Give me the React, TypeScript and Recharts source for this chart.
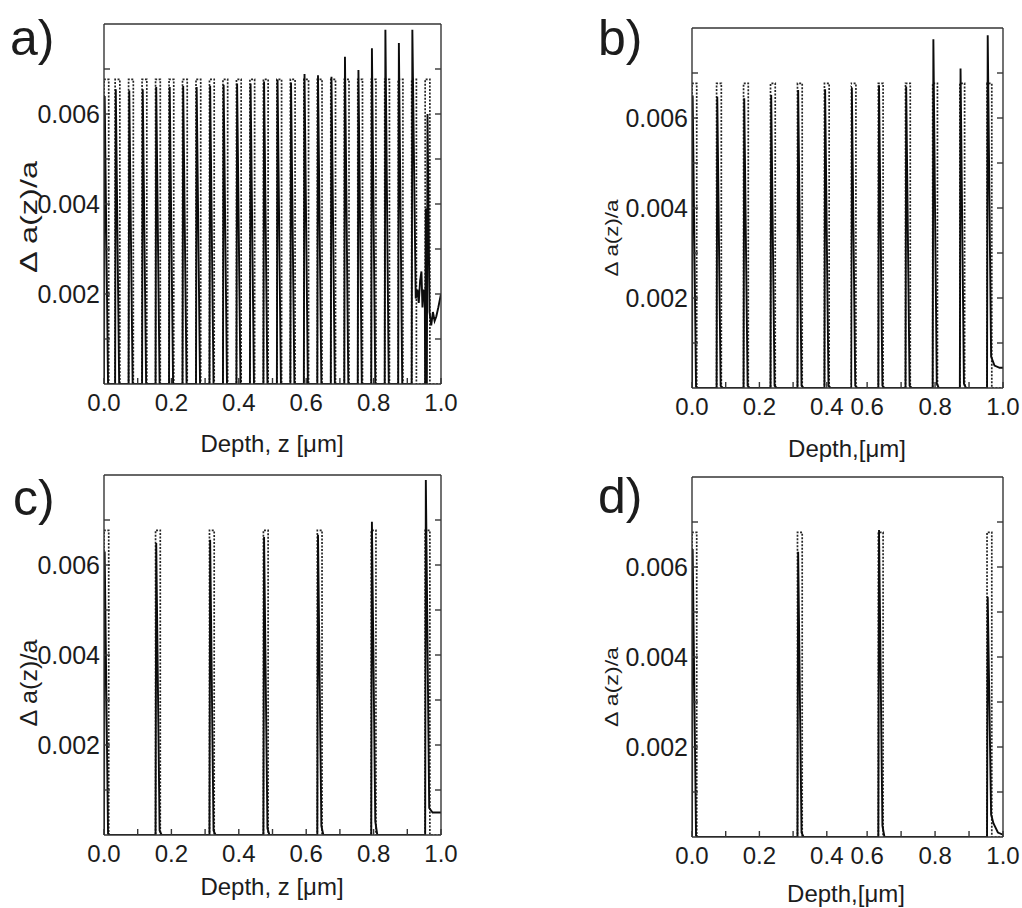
import { Line, LineChart, ReferenceLine, XAxis, YAxis } from 'recharts';

type Pt = { x: number; y: number };

// Δa(z)/a profiles. Each pulse: centre (µm), peak of the
// solid (fitted) curve and the small level it leaves behind at the pulse foot.
// The dotted curve is the target profile, same pulses at a flat height.

// a) 0.04 µm period
const aCenters = [0.007, 0.04, 0.08, 0.12, 0.16, 0.2, 0.24, 0.28, 0.32, 0.36, 0.4, 0.44, 0.48, 0.52, 0.56, 0.6, 0.64, 0.68, 0.72, 0.76, 0.8, 0.84, 0.88];
const aPeaks = [0.0064, 0.00655, 0.00652, 0.00655, 0.0066, 0.0066, 0.00662, 0.0066, 0.00663, 0.00665, 0.00668, 0.00668, 0.00672, 0.00676, 0.0067, 0.00689, 0.00686, 0.00683, 0.00727, 0.00698, 0.00746, 0.00787, 0.00758];
const aTails: number[] = [];
const aTargetCenters = [0.007, 0.04, 0.08, 0.12, 0.16, 0.2, 0.24, 0.28, 0.32, 0.36, 0.4, 0.44, 0.48, 0.52, 0.56, 0.6, 0.64, 0.68, 0.72, 0.76, 0.8, 0.84, 0.88, 0.92, 0.96];
const aEnd = [
  [0.913, 0], [0.915, 0.00787], [0.925, 0.0019], [0.93, 0.0021], [0.934, 0.0018], [0.938, 0.0023],
  [0.942, 0.0025], [0.945, 0.0017], [0.949, 0.0021], [0.952, 0.002], [0.953, 0], [0.955, 0.0039],
  [0.957, 0.0036], [0.958, 0], [0.96, 0.006], [0.966, 0.0016], [0.971, 0.0013], [0.976, 0.0016],
  [0.981, 0.0014], [0.986, 0.0015], [0.992, 0.0017], [1.0, 0.002],
];

// b) 0.08 µm period (the strip around 0.48 is cut out of the original figure)
const bCenters = [0.007, 0.08, 0.16, 0.24, 0.32, 0.4, 0.48, 0.56, 0.64, 0.72, 0.8, 0.88];
const bPeaks = [0.0065, 0.00647, 0.00644, 0.00651, 0.00662, 0.00664, 0.00668, 0.00668, 0.00673, 0.0067, 0.00775, 0.0071];
const bTails = [0.00003, 0.00005, 0.00005, 0.00005, 0.00005, 0.00005, 0.00005, 0.00005, 0.00005, 0.00005, 0.0001, 0.0001];
const bTargetCenters = [0.007, 0.08, 0.16, 0.24, 0.32, 0.4, 0.48, 0.56, 0.64, 0.72, 0.8, 0.88, 0.96];
const bEnd = [[0.953, 0], [0.955, 0.00784], [0.965, 0.0007], [0.975, 0.0005], [0.99, 0.00045], [1.0, 0.00045]];

// c) 0.16 µm period
const cCenters = [0.007, 0.16, 0.32, 0.48, 0.64, 0.8];
const cPeaks = [0.0063, 0.00649, 0.00656, 0.00662, 0.00667, 0.00696];
const cTails = [0.00003, 0.0001, 0.0001, 0.00015, 0.0002, 0.0003];
const cTargetCenters = [0.007, 0.16, 0.32, 0.48, 0.64, 0.8, 0.96];
const cEnd = [[0.953, 0], [0.955, 0.00789], [0.965, 0.0006], [0.975, 0.0005], [0.99, 0.0005], [1.0, 0.0005]];

// d) 0.32 µm period
const dCenters = [0.007, 0.32, 0.64];
const dPeaks = [0.0064, 0.00634, 0.00682];
const dTails = [0.00003, 0.0001, 0.00025];
const dTargetCenters = [0.007, 0.32, 0.64, 0.96];
const dEnd = [[0.953, 0], [0.955, 0.00534], [0.965, 0.0005], [0.972, 0.0003], [0.985, 0.0001], [1.0, 0.00005]];

const targetHeight = 0.00677;
const yMax = 0.008;
const yTicks = [0.001, 0.002, 0.003, 0.004, 0.005, 0.006, 0.007];
const yLabelled = [0.002, 0.004, 0.006];
const xTicksAll = [0, 0.1, 0.2, 0.3, 0.4, 0.5, 0.6, 0.7, 0.8, 0.9, 1.0];
const xTicksLeft = [0, 0.1, 0.2, 0.3, 0.4];
const xTicksRight = [0.6, 0.7, 0.8, 0.9, 1.0];

const panelLetters = ['a)', 'b)', 'c)', 'd)'];
const xTitles = ['Depth, z [\u03bcm]', 'Depth,[\u03bcm]', 'Depth, z [\u03bcm]', 'Depth,[\u03bcm]'];
const yTitle = '\u0394 a(z)/a';

const HALF = 0.007; // half width of a pulse, µm

function fitLine(centers: number[], peaks: number[], tails: number[], end: number[][]): Pt[] {
  return [
    ...centers.flatMap((c, i) => [
      { x: c - HALF, y: 0 },
      { x: c - 0.005, y: peaks[i] },
      { x: c + 0.005, y: tails[i] ?? 0 },
      { x: c + 0.011, y: 0 },
    ]),
    ...end.map(([x, y]) => ({ x, y })),
  ];
}

function targetLine(centers: number[]): Pt[] {
  return [
    ...centers.flatMap((c) => [
      { x: c - HALF, y: 0 },
      { x: c - HALF, y: targetHeight },
      { x: c + HALF, y: targetHeight },
      { x: c + HALF, y: 0 },
    ]),
    { x: 1, y: 0 },
  ];
}

const FRAME = '#353535';
const INK = '#1c1c1c';
const FONT = '"Liberation Sans", Arial, Helvetica, sans-serif';
const PAD_L = 70;
const PAD_R = 20;
const PAD_T = 10;
const PAD_B = 40;
const TICK = 6;

const renderXTick = (props: any) => {
  const { x, y, payload } = props;
  const v = payload.value as number;
  const major = Math.round(v * 10) % 2 === 0;
  return (
    <g>
      <line x1={x} y1={y} x2={x} y2={y - TICK} stroke={FRAME} strokeWidth={1.4} />
      {major && (
        <text x={x} y={y + 27} textAnchor="middle" fontSize={24} fontFamily={FONT} fill={INK}>
          {v.toFixed(1)}
        </text>
      )}
    </g>
  );
};

const renderYTick = (props: any) => {
  const { x, y, payload } = props;
  const v = payload.value as number;
  const major = yLabelled.some((t) => Math.abs(t - v) < 1e-9);
  return (
    <g>
      <line x1={x} y1={y} x2={x + TICK} y2={y} stroke={FRAME} strokeWidth={1.4} />
      {major && (
        <text x={x - 4} y={y} dy="0.36em" textAnchor="end" fontSize={25} fontFamily={FONT} fill={INK}>
          {v.toFixed(3)}
        </text>
      )}
    </g>
  );
};

const renderRTick = (props: any) => {
  const { x, y } = props;
  return <line x1={x} y1={y} x2={x - TICK} y2={y} stroke={FRAME} strokeWidth={1.4} />;
};

interface PieceProps {
  left: number;
  top: number;
  width: number;
  height: number;
  domain: [number, number];
  xTicks: number[];
  leftAxis?: boolean;
  rightAxis?: boolean;
  fit: Pt[];
  target: Pt[];
}

function Piece({ left, top, width, height, domain, xTicks, leftAxis, rightAxis, fit, target }: PieceProps) {
  const axisLine = { stroke: FRAME, strokeWidth: 1.4 };
  const fitAxis = leftAxis ? 'l' : 'r';
  const targetAxis = rightAxis ? 'r' : 'l';
  return (
    <div style={{ position: 'absolute', left: left - PAD_L, top: top - PAD_T }}>
      <LineChart
        width={width + PAD_L + PAD_R}
        height={height + PAD_T + PAD_B}
        margin={{ top: PAD_T, bottom: PAD_B - 30, left: leftAxis ? 0 : PAD_L, right: rightAxis ? PAD_R - 8 : PAD_R }}
      >
        <XAxis
          type="number"
          dataKey="x"
          domain={domain}
          ticks={xTicks}
          interval={0}
          allowDataOverflow
          height={30}
          axisLine={axisLine}
          tickLine={false}
          tickSize={0}
          tickMargin={0}
          tick={renderXTick}
        />
        {leftAxis && (
          <YAxis
            yAxisId="l"
            orientation="left"
            type="number"
            width={PAD_L}
            domain={[0, yMax]}
            ticks={yTicks}
            interval={0}
            allowDataOverflow
            axisLine={axisLine}
            tickLine={false}
            tickSize={0}
            tickMargin={0}
            tick={renderYTick}
          />
        )}
        {rightAxis && (
          <YAxis
            yAxisId="r"
            orientation="right"
            type="number"
            width={8}
            domain={[0, yMax]}
            ticks={yTicks}
            interval={0}
            allowDataOverflow
            axisLine={axisLine}
            tickLine={false}
            tickSize={0}
            tickMargin={0}
            tick={renderRTick}
          />
        )}
        <ReferenceLine yAxisId={fitAxis} y={yMax} stroke={FRAME} strokeWidth={1.4} ifOverflow="visible" />
        <Line
          yAxisId={targetAxis}
          data={target}
          dataKey="y"
          type="linear"
          stroke="#262626"
          strokeWidth={1.7}
          strokeDasharray="2 1.5"
          dot={false}
          isAnimationActive={false}
        />
        <Line
          yAxisId={fitAxis}
          data={fit}
          dataKey="y"
          type="linear"
          stroke="#0c0c0c"
          strokeWidth={1.9}
          dot={false}
          isAnimationActive={false}
        />
      </LineChart>
    </div>
  );
}

// the b) and d) panels are two pieces of one axis, with a strip cut out near 0.5
const CUT_LEFT: [number, number] = [0, 0.4718];
const CUT_RIGHT: [number, number] = [0.5525, 1.0];

export default function App() {
  const aFit = fitLine(aCenters, aPeaks, aTails, aEnd);
  const bFit = fitLine(bCenters, bPeaks, bTails, bEnd);
  const cFit = fitLine(cCenters, cPeaks, cTails, cEnd);
  const dFit = fitLine(dCenters, dPeaks, dTails, dEnd);
  const aTarget = targetLine(aTargetCenters);
  const bTarget = targetLine(bTargetCenters);
  const cTarget = targetLine(cTargetCenters);
  const dTarget = targetLine(dTargetCenters);

  // letter pos, x title pos, y title pos/size/length per panel
  const letters = [
    [10, 55],
    [598, 55],
    [13, 515],
    [598, 513],
  ];
  const xTitlePos = [
    [272, 452],
    [847, 457],
    [272, 895],
    [846, 902],
  ];
  const yTitlePos = [
    [37, 217, 24, 112],
    [618, 238, 18, 77],
    [37, 683, 24, 87],
    [618, 687, 18, 80],
  ];

  return (
    <div style={{ position: 'absolute', left: 0, top: 0, width: 1022, height: 908, overflow: 'hidden', background: '#fff' }}>
      <Piece left={104} top={24} width={337} height={360} domain={[0, 1]} xTicks={xTicksAll} leftAxis rightAxis fit={aFit} target={aTarget} />
      <Piece left={692} top={28} width={159} height={360} domain={CUT_LEFT} xTicks={xTicksLeft} leftAxis fit={bFit} target={bTarget} />
      <Piece left={851} top={28} width={152} height={360} domain={CUT_RIGHT} xTicks={xTicksRight} rightAxis fit={bFit} target={bTarget} />
      <Piece left={104} top={475} width={337} height={360} domain={[0, 1]} xTicks={xTicksAll} leftAxis rightAxis fit={cFit} target={cTarget} />
      <Piece left={692} top={477} width={159} height={360} domain={CUT_LEFT} xTicks={xTicksLeft} leftAxis fit={dFit} target={dTarget} />
      <Piece left={851} top={477} width={152} height={360} domain={CUT_RIGHT} xTicks={xTicksRight} rightAxis fit={dFit} target={dTarget} />

      <svg
        width={1022}
        height={908}
        style={{ position: 'absolute', left: 0, top: 0, pointerEvents: 'none' }}
        fontFamily={FONT}
        fill={INK}
      >
        {panelLetters.map((t, i) => (
          <text key={t} x={letters[i][0]} y={letters[i][1]} fontSize={50}>
            {t}
          </text>
        ))}
        {xTitles.map((t, i) => (
          <text key={i} x={xTitlePos[i][0]} y={xTitlePos[i][1]} fontSize={24} textAnchor="middle">
            {t}
          </text>
        ))}
        {yTitlePos.map(([x, y, size, len], i) => (
          <text
            key={i}
            x={x}
            y={y}
            fontSize={size}
            textAnchor="middle"
            textLength={len}
            lengthAdjust="spacingAndGlyphs"
            transform={`rotate(-90 ${x} ${y})`}
          >
            {yTitle}
          </text>
        ))}
      </svg>
    </div>
  );
}
